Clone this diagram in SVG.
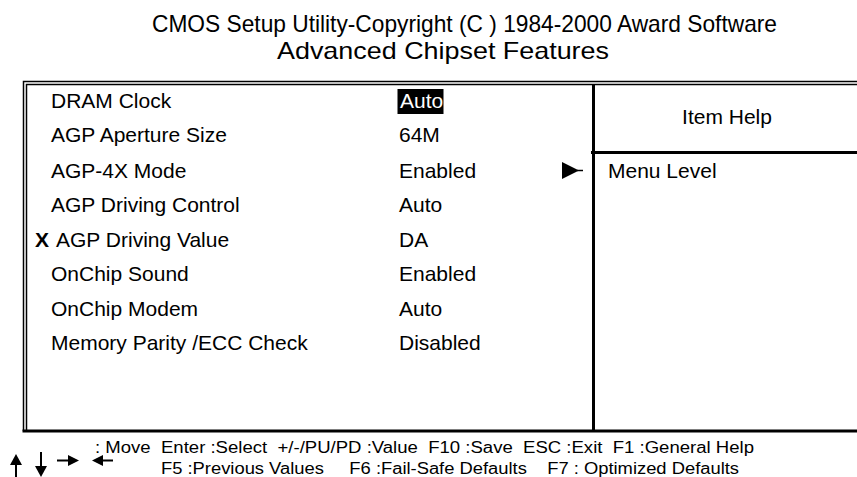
<svg xmlns="http://www.w3.org/2000/svg" width="857" height="477" viewBox="0 0 857 477">
  <style>
    text { font-family: "Liberation Sans", Arial, sans-serif; fill: #000; }
    .title { font-size: 24px; }
    .item { font-size: 21px; }
    .foot { font-size: 16px; white-space: pre; }
    .thin { stroke: #000; stroke-width: 1.5; fill: none; }
    .thick { stroke: #000; stroke-width: 3; fill: none; }
    .shaft { stroke: #000; stroke-width: 2; fill: none; }
  </style>
  <rect width="857" height="477" fill="#fff"/>

  <!-- header -->
  <g id="header">
    <text class="title" x="152" y="32" textLength="625" lengthAdjust="spacingAndGlyphs">CMOS Setup Utility-Copyright (C ) 1984-2000 Award Software</text>
    <text class="title" x="277" y="59" textLength="332" lengthAdjust="spacingAndGlyphs">Advanced Chipset Features</text>
  </g>

  <!-- frame -->
  <g id="frame">
    <path class="thin" d="M857 81.5 H23.5 V431"/>
    <path class="thin" d="M857 84.5 H26.5 V431"/>
    <path class="thick" d="M22.5 431 H857"/>
    <path class="thick" d="M593.5 84 V431"/>
    <path class="thick" d="M591 152.5 H857"/>
  </g>

  <!-- setting rows -->
  <g id="row-dram-clock">
    <text class="item" x="51" y="108">DRAM Clock</text>
    <rect x="397.5" y="89" width="46" height="25" fill="#000"/>
    <text class="item" x="400" y="108" style="fill:#fff">Auto</text>
  </g>
  <g id="row-aperture">
    <text class="item" x="51" y="142">AGP Aperture Size</text>
    <text class="item" x="399" y="142">64M</text>
  </g>
  <g id="row-agp4x">
    <text class="item" x="51" y="178">AGP-4X Mode</text>
    <text class="item" x="399" y="178">Enabled</text>
    <polygon points="562,162 562,179 579,170.5" fill="#000"/>
    <path class="thin" d="M577 170.5 H583"/>
  </g>
  <g id="row-driving-control">
    <text class="item" x="51" y="212">AGP Driving Control</text>
    <text class="item" x="399" y="212">Auto</text>
  </g>
  <g id="row-driving-value">
    <text class="item" x="35" y="247" style="font-weight:bold">X</text>
    <text class="item" x="56" y="247">AGP Driving Value</text>
    <text class="item" x="399" y="247">DA</text>
  </g>
  <g id="row-sound">
    <text class="item" x="51" y="281">OnChip Sound</text>
    <text class="item" x="399" y="281">Enabled</text>
  </g>
  <g id="row-modem">
    <text class="item" x="51" y="316">OnChip Modem</text>
    <text class="item" x="399" y="316">Auto</text>
  </g>
  <g id="row-parity">
    <text class="item" x="51" y="350">Memory Parity /ECC Check</text>
    <text class="item" x="399" y="350">Disabled</text>
  </g>

  <!-- help panel -->
  <g id="item-help">
    <text class="item" x="727" y="124" text-anchor="middle">Item Help</text>
  </g>
  <g id="menu-level">
    <text class="item" x="608" y="178">Menu Level</text>
  </g>

  <!-- key legend: cursor arrows and function keys -->
  <g id="keys">
    <path d="M16 477 V462" class="shaft"/>
    <polygon points="10,465 22,465 16,454" fill="#000"/>
    <path d="M41 452 V468" class="shaft"/>
    <polygon points="35,466 47,466 41,477" fill="#000"/>
    <path d="M57 460.5 H70" class="shaft"/>
    <polygon points="68,455 68,466 79,460.5" fill="#000"/>
    <path d="M100 460.5 H113" class="shaft"/>
    <polygon points="103,455 103,466 92,460.5" fill="#000"/>
    <text class="foot" x="95" y="453" textLength="659" lengthAdjust="spacingAndGlyphs">: Move  Enter :Select  +/-/PU/PD :Value  F10 :Save  ESC :Exit  F1 :General Help</text>
    <text class="foot" x="161" y="474" textLength="578" lengthAdjust="spacingAndGlyphs">F5 :Previous Values     F6 :Fail-Safe Defaults    F7 : Optimized Defaults</text>
  </g>
</svg>
